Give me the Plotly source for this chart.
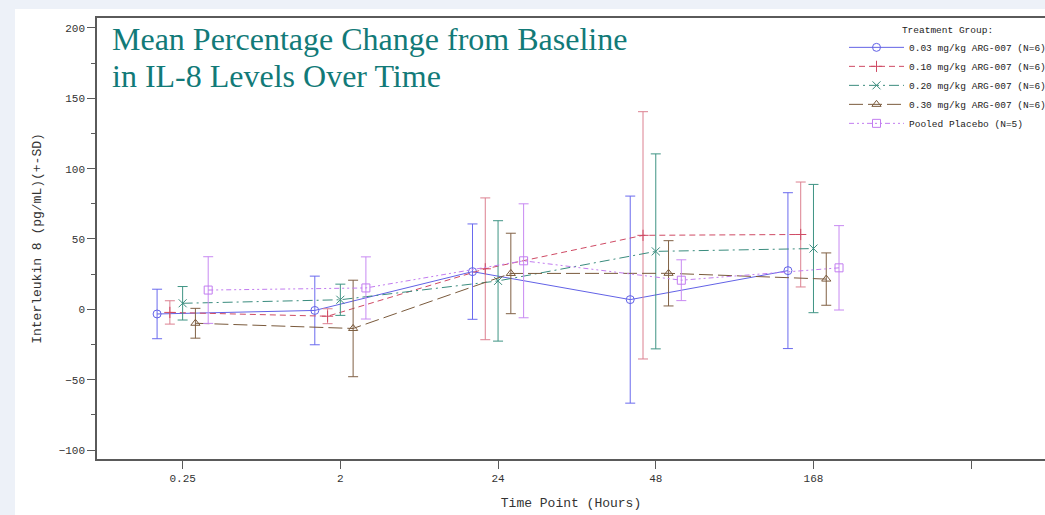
import plotly.graph_objects as go

# ---- data ----
timepoints = ["0.25", "2", "24", "48", "168"]
tick_labels = ["0.25", "2", "24", "48", "168", ""]

groups = [
    "0.03 mg/kg ARG-007 (N=6)",
    "0.10 mg/kg ARG-007 (N=6)",
    "0.20 mg/kg ARG-007 (N=6)",
    "0.30 mg/kg ARG-007 (N=6)",
    "Pooled Placebo (N=5)",
]

mean_003 = [-3.3, -0.8, 26.8, 6.9, 27.5]
sd_003 = [17.6, 24.4, 33.9, 73.6, 55.4]
mean_010 = [-2.2, -4.9, 28.8, 52.6, 53.2]
sd_010 = [8.3, 5.3, 50.4, 87.9, 37.3]
mean_020 = [4.3, 6.8, 20.2, 41.2, 43.2]
sd_020 = [11.9, 11.1, 42.8, 69.3, 45.6]
mean_030 = [-9.9, -13.6, 25.5, 25.6, 21.5]
sd_030 = [10.6, 34.3, 28.6, 23.2, 18.6]
mean_pbo = [13.7, 15.2, 34.5, 20.7, 29.5]
sd_pbo = [23.7, 22.1, 40.5, 14.5, 30.0]

means = [mean_003, mean_010, mean_020, mean_030, mean_pbo]
sds = [sd_003, sd_010, sd_020, sd_030, sd_pbo]

# ---- styles ----
colors = ["#6262e6", "#cf4a64", "#3a8c7e", "#7a5a3c", "#c27cf0"]
err_colors = ["#6a6aee", "#dc8090", "#3f9484", "#806044", "#c88af2"]
dashes = ["solid", "6px,4px", "10px,4px,2px,4px", "14px,5px", "5px,3px,2px,3px,2px,3px"]
symbols = ["circle-open", "cross-thin-open", "x-thin-open", "triangle-up-open", "square-open"]
offsets = [-0.162, -0.081, 0.0, 0.081, 0.162]

mono = "Liberation Mono, Courier New, monospace"
serif = "Liberation Serif, Times New Roman, serif"

fig = go.Figure()
base_idx = list(range(len(timepoints)))
for i in range(5):
    xs = [b + offsets[i] for b in base_idx]
    fig.add_trace(go.Scatter(
        x=xs, y=means[i], name=groups[i], mode="lines+markers",
        line=dict(color=colors[i], width=1, dash=dashes[i]),
        marker=dict(symbol=symbols[i], size=8, color=colors[i],
                    line=dict(color=colors[i], width=1)),
        error_y=dict(type="data", array=sds[i], symmetric=True,
                     color=err_colors[i], thickness=1, width=5),
    ))

W, H = 1045, 515
L, T, B, R = 97, 18, 56, 0
pw = W - L - R
ph = H - T - B

def px_x(p):
    return (p - L) / pw

def px_y(p):
    return (H - B - p) / ph

fig.update_layout(
    width=W, height=H,
    margin=dict(l=L, r=R, t=T, b=B, pad=0, autoexpand=False),
    paper_bgcolor="#edf1f8",
    plot_bgcolor="white",
    showlegend=True,
    legend=dict(
        x=px_x(844), y=px_y(20.5), xanchor="left", yanchor="top",
        bgcolor="rgba(0,0,0,0)", borderwidth=0,
        font=dict(family=mono, size=9.5, color="#222"),
        title=dict(text="Treatment Group:", side="top center",
                   font=dict(family=mono, size=9.5, color="#222")),
        itemwidth=55, tracegroupgap=0,
    ),
    xaxis=dict(
        range=[-0.543, 5.468], tickmode="array",
        tickvals=list(range(len(tick_labels))), ticktext=tick_labels,
        showgrid=False, zeroline=False,
        showline=True, linecolor="#5a5a5a", linewidth=1.5, mirror=True,
        ticks="outside", ticklen=8, tickcolor="#5a5a5a", tickwidth=1,
        tickfont=dict(family=mono, size=11, color="#333"),
        title=dict(text="Time Point (Hours)", standoff=14,
                   font=dict(family=mono, size=13, color="#333")),
    ),
    yaxis=dict(
        range=[-106.4, 207.1], tickmode="array",
        tickvals=[-100, -50, 0, 50, 100, 150, 200],
        showgrid=False, zeroline=False,
        showline=True, linecolor="#5a5a5a", linewidth=1.5, mirror=False,
        ticks="outside", ticklen=8, tickcolor="#5a5a5a", tickwidth=1,
        minor=dict(tickvals=[-75, -25, 25, 75, 125, 175], ticks="outside",
                   ticklen=4, tickcolor="#5a5a5a", tickwidth=1, showgrid=False),
        tickfont=dict(family=mono, size=11, color="#333"),
        title=dict(text="Interleukin 8 (pg/mL)(+-SD)", standoff=14,
                   font=dict(family=mono, size=13, color="#333")),
    ),
    shapes=[dict(type="rect", xref="paper", yref="paper",
                 x0=px_x(15), x1=1.0, y0=px_y(515), y1=px_y(9),
                 fillcolor="white", line=dict(width=0), layer="below")],
    annotations=[
        dict(text="Mean Percentage Change from Baseline", xref="paper", yref="paper",
             x=px_x(110), y=px_y(39), xanchor="left", yanchor="middle", showarrow=False,
             font=dict(family=serif, size=32, color="#127a78")),
        dict(text="in IL-8 Levels Over Time", xref="paper", yref="paper",
             x=px_x(110), y=px_y(76), xanchor="left", yanchor="middle", showarrow=False,
             font=dict(family=serif, size=32, color="#127a78")),
    ],
)

fig.write_html("out.html")
